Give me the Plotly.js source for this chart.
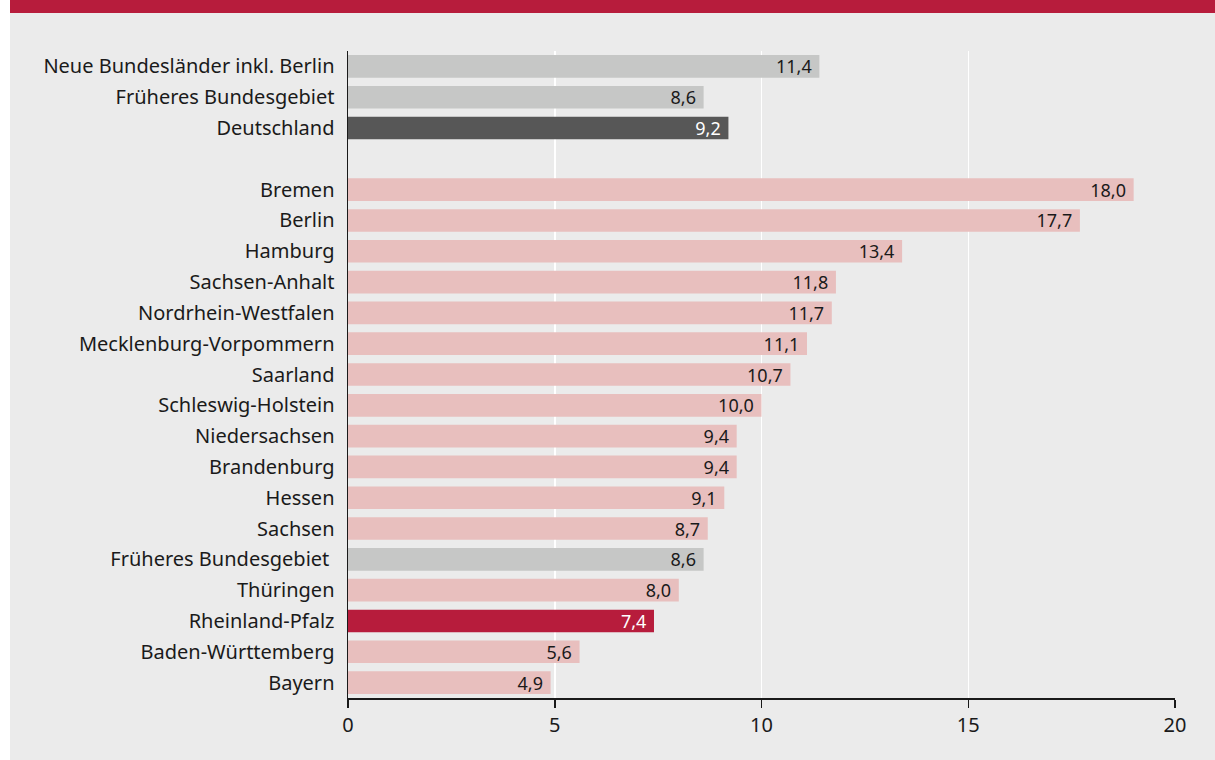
<!DOCTYPE html>
<html><head><meta charset="utf-8">
<script src="https://cdn.plot.ly/plotly-3.0.1.min.js"></script>
<style>
html,body{margin:0;padding:0;background:#fff;}
#wrap{position:absolute;left:10px;top:0;width:1205px;height:760px;background:#ebebeb;}
#band{height:13px;background:#b71c3c;}
#chart{width:1205px;height:747px;}
</style></head><body>
<div id="wrap"><div id="band"></div><div id="chart"></div></div>
<script>
const categories = ["Neue Bundesländer inkl. Berlin","Früheres Bundesgebiet","Deutschland"," ",
 "Bremen","Berlin","Hamburg","Sachsen-Anhalt","Nordrhein-Westfalen","Mecklenburg-Vorpommern",
 "Saarland","Schleswig-Holstein","Niedersachsen","Brandenburg","Hessen","Sachsen",
 "Früheres Bundesgebiet ","Thüringen","Rheinland-Pfalz","Baden-Württemberg","Bayern"];
const values = [11.4,8.6,9.2,null,19.0,17.7,13.4,11.8,11.7,11.1,10.7,10.0,9.4,9.4,9.1,8.7,8.6,8.0,7.4,5.6,4.9];
const valueLabels = ["11,4","8,6","9,2","","18,0","17,7","13,4","11,8","11,7","11,1","10,7","10,0","9,4","9,4","9,1","8,7","8,6","8,0","7,4","5,6","4,9"];
const groups = ["agg","agg","de","","land","land","land","land","land","land","land","land","land","land","land","land","agg","land","rp","land","land"];
const xTicks = [0,5,10,15,20];

const colorMap = {agg:"#c6c7c6", de:"#575757", land:"#e8bfbe", rp:"#b71c3c", "":"#e8bfbe"};
const textColorMap = {agg:"#1a1a1a", de:"#ffffff", land:"#1a1a1a", rp:"#ffffff", "":"#1a1a1a"};

const trace = {
  type:"bar", orientation:"h",
  x: values, y: categories,
  text: valueLabels, texttemplate:"%{text}\u00a0", textposition:"inside", insidetextanchor:"end", textangle:0,
  constraintext:"none",
  textfont:{family:"Noto Sans, sans-serif", size:18, color: groups.map(g=>textColorMap[g])},
  marker:{color: groups.map(g=>colorMap[g]), line:{width:0}},
  hoverinfo:"none", cliponaxis:false
};
const layout = {
  width:1205, height:747,
  margin:{l:338, r:40, t:38, b:62},
  paper_bgcolor:"#ebebeb", plot_bgcolor:"#ebebeb",
  bargap:0.265, showlegend:false,
  font:{family:"Noto Sans, sans-serif", color:"#1a1a1a", size:20},
  xaxis:{range:[0,20], tickvals:xTicks, ticktext:xTicks.map(String), showgrid:true, gridcolor:"#ffffff", gridwidth:1.5,
    zeroline:false, showline:true, linecolor:"#1a1a1a", linewidth:1.5, ticks:"outside", ticklen:8, tickcolor:"#1a1a1a",
    tickwidth:1.5, tickfont:{size:20, color:"#1a1a1a"}, fixedrange:true},
  yaxis:{type:"category", categoryorder:"array", categoryarray:categories, autorange:"reversed",
    showgrid:false, zeroline:false, showline:true, linecolor:"#1a1a1a", linewidth:1.5,
    ticks:"outside", ticklen:8, tickcolor:"rgba(0,0,0,0)", tickfont:{size:20, color:"#1a1a1a"}, fixedrange:true}
};
Plotly.newPlot("chart",[trace],layout,{displayModeBar:false, staticPlot:true});
</script></body></html>
